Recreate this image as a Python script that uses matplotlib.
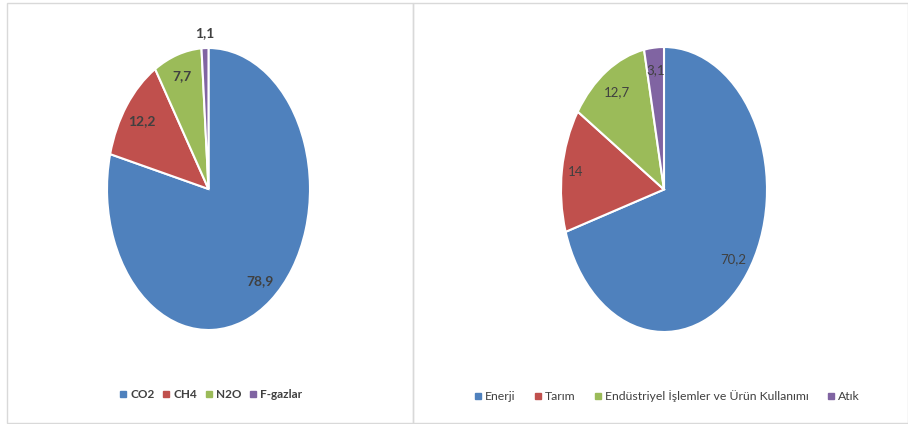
import matplotlib
matplotlib.use("Agg")
import matplotlib.pyplot as plt
from matplotlib.lines import Line2D
from matplotlib.patches import Rectangle
import numpy as np

plt.rcParams["font.family"] = ["Lato", "DejaVu Sans"]

GAS_LABELS = ["CO2", "CH4", "N2O", "F-gazlar"]
GAS_VALUES = [78.9, 12.2, 7.7, 1.1]
SECTOR_LABELS = ["Enerji", "Tarım", "Endüstriyel İşlemler ve Ürün Kullanımı", "Atık"]
SECTOR_VALUES = [70.2, 14, 12.7, 3.1]
COLORS = ["#4F81BD", "#C0504D", "#9BBB59", "#8064A2"]

W, H = 908, 424
TEXT = "#404040"


def px_axes(fig, left, top, right, bottom):
    return fig.add_axes([left / W, 1 - bottom / H, (right - left) / W, (bottom - top) / H])


def fmt(v):
    return f"{v:g}".replace(".", ",")


def draw_pie(ax, values, dists, weight, size):
    wedges, _ = ax.pie(values, colors=COLORS, startangle=90, counterclock=False,
                       wedgeprops=dict(edgecolor="white", linewidth=1.5))
    for w, v, d in zip(wedges, values, dists):
        mid = np.deg2rad((w.theta1 + w.theta2) / 2)
        ax.text(d * np.cos(mid), d * np.sin(mid), fmt(v), ha="center", va="center",
                fontsize=size, color=TEXT, fontweight=weight)
    ax.set_aspect("auto")
    ax.set_xlim(-1, 1)
    ax.set_ylim(-1, 1)
    ax.axis("off")


def add_legend(fig, labels, cx, cy, weight, size, spacing):
    handles = [Line2D([], [], marker="s", color=c, linestyle="none", markersize=4)
               for c in COLORS]
    leg = fig.legend(handles, labels, loc="center", bbox_to_anchor=(cx / W, 1 - cy / H),
                     ncol=4, frameon=False, handlelength=0.6, handletextpad=0.3,
                     columnspacing=spacing, fontsize=size)
    for t in leg.get_texts():
        t.set_color(TEXT)
        t.set_fontweight(weight)


fig = plt.figure(figsize=(W / 100, H / 100), dpi=100)

# panel frames
for x0, x1 in [(7, 413), (413, 908)]:
    fig.add_artist(Rectangle((x0 / W, 1 - 423 / H), (x1 - x0) / W, 420 / H,
                             transform=fig.transFigure, fill=False,
                             edgecolor="#d9d9d9", linewidth=1))

ax1 = px_axes(fig, 107, 48, 310, 330)
draw_pie(ax1, GAS_VALUES, [0.83, 0.81, 0.84, 1.11], "bold", 10)
add_legend(fig, GAS_LABELS, 211, 395, "bold", 8.5, 0.7)

ax2 = px_axes(fig, 561, 47, 767, 332)
draw_pie(ax2, SECTOR_VALUES, [0.83, 0.87, 0.82, 0.84], "normal", 9.5)
add_legend(fig, SECTOR_LABELS, 667, 396, "normal", 8.8, 1.5)

fig.savefig("out.png", dpi=100)
